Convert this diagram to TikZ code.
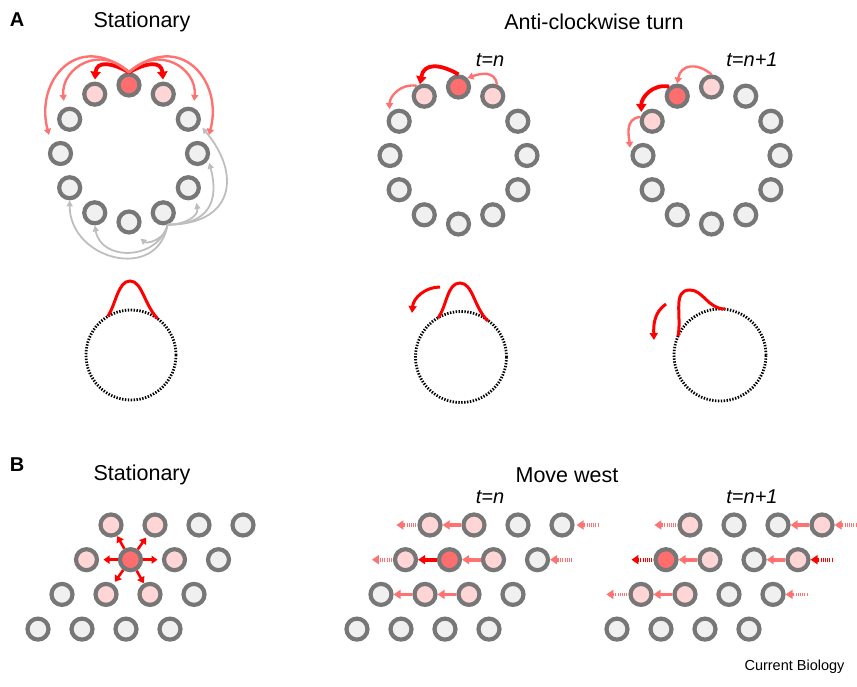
\documentclass[tikz,border=0pt]{standalone}
\usepackage{fontspec}
\setmainfont{Liberation Sans}
\usetikzlibrary{arrows.meta,calc}

\definecolor{ringgrey}{HTML}{777777}
\definecolor{cellgrey}{HTML}{F0F0F0}
\definecolor{cellpink}{HTML}{FFD5D5}
\definecolor{cellred}{HTML}{FF6E6E}
\definecolor{pullred}{HTML}{FF0000}
\definecolor{pulllight}{HTML}{FF7272}
\definecolor{linkgrey}{HTML}{BEBEBE}

\tikzset{
  cell/.style={circle, draw=ringgrey, fill=cellgrey, line width=4.2pt, minimum size=21pt, inner sep=0pt},
  warm/.style={cell, fill=cellpink},
  hot/.style={cell, fill=cellred},
  heavy/.style={draw=pullred, line width=3.8pt, -{Triangle[length=8pt,width=10pt]}},
  light/.style={draw=pulllight, line width=2.4pt, -{Triangle[length=6pt,width=7pt]}},
  faint/.style={draw=linkgrey, line width=1.8pt, -{Triangle[length=6pt,width=6pt]}},
  burst/.style={draw=pullred, line width=2.6pt, -{Triangle[length=6pt,width=8pt]}},
  push/.style={draw=pulllight, line width=3.6pt, -{Triangle[length=7pt,width=9pt]}},
  pushdark/.style={push, draw=pullred},
  drift/.style={push, dash pattern=on 1pt off 1.2pt},
  driftdark/.style={drift, draw=pullred},
  membrane/.style={draw=black, line width=2.8pt, dash pattern=on 1.4pt off 1.5pt},
  bump/.style={draw=pullred, line width=3pt},
  bumparrow/.style={bump, -{Triangle[length=7pt,width=8pt]}},
  title/.style={font=\fontsize{21.5}{25}\selectfont},
  stamp/.style={font=\fontsize{20}{23}\selectfont\itshape},
  panel/.style={font=\fontsize{20}{24}\selectfont\bfseries},
  credit/.style={font=\fontsize{14.5}{17}\selectfont}
}

\begin{document}
\begin{tikzpicture}[x=1pt,y=1pt]
\useasboundingbox (0,0) rectangle (857,686);

\node[panel] (la) at (17,666) {A};
\node[title] (ta) at (142,664) {Stationary};
\node[title] (tb) at (594,664) {Anti-clockwise turn};
\node[stamp] (sa) at (490,626) {t=n};
\node[stamp] (sb) at (752,626) {t=n+1};

\coordinate (ca) at (129,532.5);
\node[hot] (as0) at ($(ca)+(90:68.5)$) {};
\node[warm] (as1) at ($(ca)+(120:68.5)$) {};
\node[cell] (as2) at ($(ca)+(150:68.5)$) {};
\node[cell] (as3) at ($(ca)+(180:68.5)$) {};
\node[cell] (as4) at ($(ca)+(210:68.5)$) {};
\node[cell] (as5) at ($(ca)+(240:68.5)$) {};
\node[cell] (as6) at ($(ca)+(270:68.5)$) {};
\node[cell] (as7) at ($(ca)+(300:68.5)$) {};
\node[cell] (as8) at ($(ca)+(330:68.5)$) {};
\node[cell] (as9) at ($(ca)+(0:68.5)$) {};
\node[cell] (as10) at ($(ca)+(30:68.5)$) {};
\node[warm] (as11) at ($(ca)+(60:68.5)$) {};

\draw[faint, shorten >=8pt] (as7.-70) to[out=-100,in=-40,looseness=1.2] (as6.-65);
\draw[faint] (as7.-70) to[out=-105,in=-80,looseness=1.3] (as5.south);
\draw[faint] (as7.-70) to[out=-100,in=-90,looseness=1.5] (as4.south);
\draw[faint, shorten >=5pt] (as7.-70) to[out=0,in=-80,looseness=1.2] (as8.-55);
\draw[faint, shorten >=3pt] (as7.-70) to[out=0,in=-75,looseness=1.4] (as9.-30);
\draw[faint, shorten >=4pt] (as7.-70) to[out=0,in=-50,looseness=1.6] (as10.-25);

\draw[heavy, shorten >=2pt] (as0.north) to[out=150,in=85,looseness=1.5] (as1.north);
\draw[heavy, shorten >=2pt] (as0.north) to[out=30,in=95,looseness=1.5] (as11.north);
\draw[light, shorten >=7pt] (as0.north) to[out=135,in=95,looseness=1.4] (as2.115);
\draw[light, shorten >=10pt] (as0.north) to[out=140,in=105,looseness=1.6] (as3.north west);
\draw[light, shorten >=7pt] (as0.north) to[out=45,in=85,looseness=1.4] (as10.65);
\draw[light, shorten >=10pt] (as0.north) to[out=40,in=75,looseness=1.6] (as9.north east);

\coordinate (cb) at (458.5,530.5);
\node[hot] (an0) at ($(cb)+(90:68.5)$) {};
\node[warm] (an1) at ($(cb)+(120:68.5)$) {};
\node[cell] (an2) at ($(cb)+(150:68.5)$) {};
\node[cell] (an3) at ($(cb)+(180:68.5)$) {};
\node[cell] (an4) at ($(cb)+(210:68.5)$) {};
\node[cell] (an5) at ($(cb)+(240:68.5)$) {};
\node[cell] (an6) at ($(cb)+(270:68.5)$) {};
\node[cell] (an7) at ($(cb)+(300:68.5)$) {};
\node[cell] (an8) at ($(cb)+(330:68.5)$) {};
\node[cell] (an9) at ($(cb)+(0:68.5)$) {};
\node[cell] (an10) at ($(cb)+(30:68.5)$) {};
\node[warm] (an11) at ($(cb)+(60:68.5)$) {};

\draw[heavy] (an0.north) to[out=150,in=80,looseness=1.4] (an1.110);
\draw[light] (an11.70) to[out=100,in=20,looseness=1.2] (an0.45);
\draw[light, shorten >=4pt] (an1.125) to[out=170,in=90,looseness=1.1] (an2.140);

\coordinate (cc) at (711.5,530.5);
\node[warm] (am0) at ($(cc)+(90:68.5)$) {};
\node[hot] (am1) at ($(cc)+(120:68.5)$) {};
\node[warm] (am2) at ($(cc)+(150:68.5)$) {};
\node[cell] (am3) at ($(cc)+(180:68.5)$) {};
\node[cell] (am4) at ($(cc)+(210:68.5)$) {};
\node[cell] (am5) at ($(cc)+(240:68.5)$) {};
\node[cell] (am6) at ($(cc)+(270:68.5)$) {};
\node[cell] (am7) at ($(cc)+(300:68.5)$) {};
\node[cell] (am8) at ($(cc)+(330:68.5)$) {};
\node[cell] (am9) at ($(cc)+(0:68.5)$) {};
\node[cell] (am10) at ($(cc)+(30:68.5)$) {};
\node[cell] (am11) at ($(cc)+(60:68.5)$) {};

\draw[light] (am0.north) to[out=140,in=80,looseness=1.4] (am1.north);
\draw[heavy, shorten >=3pt] (am1.130) to[out=170,in=90,looseness=1.1] (am2.150);
\draw[light, shorten >=6pt] (am2.160) to[out=185,in=95,looseness=1.1] (am3.172);

\draw[membrane] (131,331) circle (45);
\draw[bump] (107.8,369.6) .. controls (116,382) and (118,405) .. (130,405) .. controls (142,405) and (144,382) .. (157.5,367.4);

\draw[membrane] (461,329) circle (45.5);
\draw[bump] (438,368) .. controls (447,380) and (447,403) .. (460,403) .. controls (473,403) and (474,378) .. (488,365);
\draw[bumparrow] (440,399) to[out=180,in=85] (412,373);

\draw[membrane] (720,331) circle (46);
\draw[bump] (678,349.7) .. controls (682,370) and (672,396) .. (690,396) .. controls (703,396) and (708,377) .. (725,377);
\draw[bumparrow] (666,382) to[out=215,in=92] (654,346);

\node[panel] (lb) at (17,221) {B};
\node[title] (tc) at (142,211) {Stationary};
\node[title] (td) at (567,211) {Move west};
\node[stamp] (sc) at (490,189) {t=n};
\node[stamp] (sd) at (752,189) {t=n+1};

\node[warm] (bs11) at (111,161) {};
\node[warm] (bs12) at (155,161) {};
\node[cell] (bs13) at (199,161) {};
\node[cell] (bs14) at (243,161) {};
\node[warm] (bs21) at (86.5,126.3) {};
\node[hot] (bs22) at (130.5,126.3) {};
\node[warm] (bs23) at (174.5,126.3) {};
\node[cell] (bs24) at (218.5,126.3) {};
\node[cell] (bs31) at (62,91.6) {};
\node[warm] (bs32) at (106,91.6) {};
\node[warm] (bs33) at (150,91.6) {};
\node[cell] (bs34) at (194,91.6) {};
\node[cell] (bs41) at (38,56.9) {};
\node[cell] (bs42) at (82,56.9) {};
\node[cell] (bs43) at (126,56.9) {};
\node[cell] (bs44) at (170,56.9) {};

\draw[burst] (bs22) -- ($(bs22)!27pt!(bs11)$);
\draw[burst] (bs22) -- ($(bs22)!27pt!(bs12)$);
\draw[burst] (bs22) -- ($(bs22)!27pt!(bs21)$);
\draw[burst] (bs22) -- ($(bs22)!27pt!(bs23)$);
\draw[burst] (bs22) -- ($(bs22)!27pt!(bs32)$);
\draw[burst] (bs22) -- ($(bs22)!27pt!(bs33)$);

\node[warm] (bn11) at (430,161) {};
\node[warm] (bn12) at (474,161) {};
\node[cell] (bn13) at (518,161) {};
\node[cell] (bn14) at (562,161) {};
\node[warm] (bn21) at (405.5,126.3) {};
\node[hot] (bn22) at (449.5,126.3) {};
\node[warm] (bn23) at (493.5,126.3) {};
\node[cell] (bn24) at (537.5,126.3) {};
\node[cell] (bn31) at (381,91.6) {};
\node[warm] (bn32) at (425,91.6) {};
\node[warm] (bn33) at (469,91.6) {};
\node[cell] (bn34) at (513,91.6) {};
\node[cell] (bn41) at (357,56.9) {};
\node[cell] (bn42) at (401,56.9) {};
\node[cell] (bn43) at (445,56.9) {};
\node[cell] (bn44) at (489,56.9) {};

\draw[drift] ([xshift=-1pt]bn11.west) -- ([xshift=-21pt]bn11.west);
\draw[push] (bn12) -- (bn11);
\draw[drift] ([xshift=24pt]bn14.east) -- ([xshift=2pt]bn14.east);
\draw[drift] ([xshift=-1pt]bn21.west) -- ([xshift=-21pt]bn21.west);
\draw[pushdark] (bn22) -- (bn21);
\draw[push] (bn23) -- (bn22);
\draw[drift] ([xshift=22pt]bn24.east) -- ([xshift=0pt]bn24.east);
\draw[push] (bn32) -- (bn31);
\draw[push] (bn33) -- (bn32);

\node[warm] (bm11) at (690,161) {};
\node[cell] (bm12) at (734,161) {};
\node[cell] (bm13) at (778,161) {};
\node[warm] (bm14) at (822,161) {};
\node[hot] (bm21) at (666,126.3) {};
\node[warm] (bm22) at (710,126.3) {};
\node[cell] (bm23) at (754,126.3) {};
\node[warm] (bm24) at (798,126.3) {};
\node[warm] (bm31) at (641,91.6) {};
\node[warm] (bm32) at (685,91.6) {};
\node[cell] (bm33) at (729,91.6) {};
\node[cell] (bm34) at (773,91.6) {};
\node[cell] (bm41) at (617,56.9) {};
\node[cell] (bm42) at (661,56.9) {};
\node[cell] (bm43) at (705,56.9) {};
\node[cell] (bm44) at (749,56.9) {};

\draw[drift] ([xshift=-1pt]bm11.west) -- ([xshift=-23pt]bm11.west);
\draw[push] (bm14) -- (bm13);
\draw[drift] ([xshift=22pt]bm14.east) -- ([xshift=0pt]bm14.east);
\draw[driftdark] ([xshift=-1pt]bm21.west) -- ([xshift=-22pt]bm21.west);
\draw[push] (bm22) -- (bm21);
\draw[push] (bm24) -- (bm23);
\draw[driftdark] ([xshift=22pt]bm24.east) -- ([xshift=0pt]bm24.east);
\draw[drift] ([xshift=-1pt]bm31.west) -- ([xshift=-22pt]bm31.west);
\draw[push] (bm32) -- (bm31);
\draw[drift] ([xshift=22pt]bm34.east) -- ([xshift=0pt]bm34.east);

\node[credit, anchor=east] (cr) at (848,19) {Current Biology};
\end{tikzpicture}
\end{document}
